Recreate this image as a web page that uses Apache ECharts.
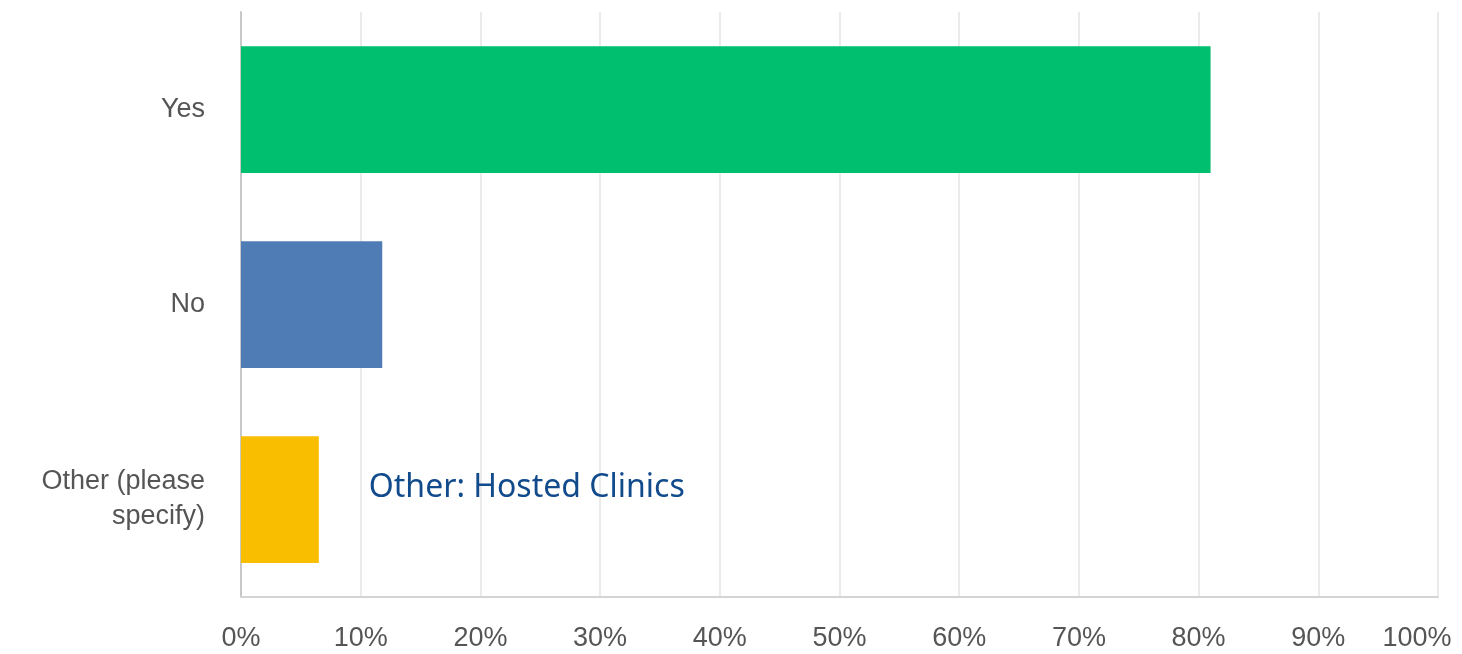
<!DOCTYPE html>
<html style="height: 100%">
<head>
    <meta charset="utf-8">
</head>
<body style="height: 100%; margin: 0; background: #fff">
    <div id="container" style="height: 100%"></div>
    <script type="text/javascript" src="https://cdn.jsdelivr.net/npm/echarts@6/dist/echarts.min.js"></script>
    <script type="text/javascript">
var categories = ['Yes', 'No', 'Other (please\nspecify)'];
var values = [81.0, 11.8, 6.5];
var barColors = ['#00BF6F', '#507CB6', '#F9BE00'];
var tickLabels = ['0%', '10%', '20%', '30%', '40%', '50%', '60%', '70%', '80%', '90%', '100%'];
var note = 'Other: Hosted Clinics';

var dom = document.getElementById("container");
var myChart = echarts.init(dom);
var option = null;

var barData = values.map(function (v, i) {
    var item = { value: v, itemStyle: { color: barColors[i] } };
    if (i === 2) {
        item.label = {
            show: true,
            position: 'right',
            distance: 50,
            offset: [0, -12],
            formatter: note,
            color: '#114B8C',
            fontSize: 32,
            fontFamily: 'Noto Sans'
        };
    }
    return item;
});

var tickFont = { color: '#555', fontSize: 27, fontFamily: 'Liberation Sans' };

option = {
    backgroundColor: '#fff',
    animation: false,
    grid: {
        left: 241,
        right: 24,
        top: 12,
        bottom: 57,
        containLabel: false,
        outerBoundsMode: 'none'
    },
    xAxis: {
        type: 'value',
        min: 0,
        max: 100,
        interval: 10,
        axisLine: { show: true, lineStyle: { color: '#d4d4d4', width: 2 } },
        axisTick: { show: false },
        splitLine: { show: true, lineStyle: { color: '#ebebeb', width: 2 } },
        axisLabel: {
            margin: 28,
            color: tickFont.color,
            fontSize: tickFont.fontSize,
            fontFamily: tickFont.fontFamily,
            formatter: function (v) {
                var i = Math.round(v / 10);
                // last label is pushed left so it stays on the page
                return i === tickLabels.length - 1 ? '{last|' + tickLabels[i] + '}' : tickLabels[i];
            },
            rich: {
                last: {
                    color: tickFont.color,
                    fontSize: tickFont.fontSize,
                    fontFamily: tickFont.fontFamily,
                    padding: [0, 42, 0, 0]
                }
            }
        }
    },
    yAxis: {
        type: 'category',
        inverse: true,
        data: categories,
        axisLine: { show: true, lineStyle: { color: '#c8c8c8', width: 2 } },
        axisTick: { show: false },
        splitLine: { show: false },
        axisLabel: {
            margin: 36,
            color: '#555',
            fontSize: 27,
            lineHeight: 35,
            align: 'right',
            fontFamily: 'Liberation Sans'
        }
    },
    series: [
        {
            type: 'bar',
            data: barData,
            barCategoryGap: '35%',
            label: { show: false }
        }
    ]
};
if (option && typeof option === "object") {
    myChart.setOption(option, true);
}
    </script>
</body>
</html>
